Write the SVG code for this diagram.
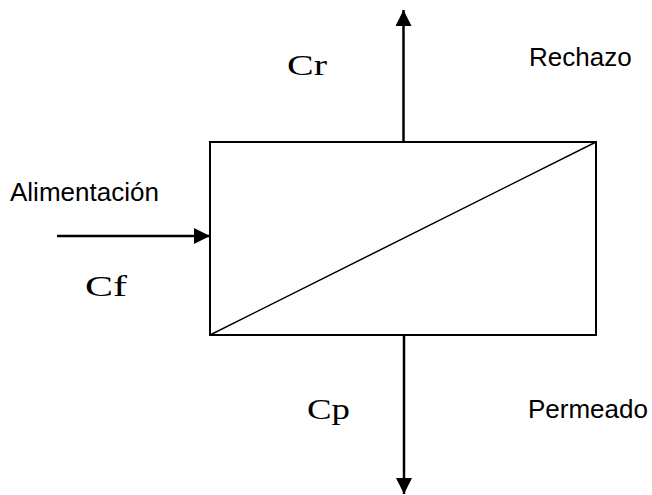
<svg xmlns="http://www.w3.org/2000/svg" width="652" height="495" viewBox="0 0 652 495">
<style>
.sans{font-family:"Liberation Sans",Arial,sans-serif;font-size:26px;fill:#000}
.serif{font-family:"Liberation Serif","Times New Roman",serif;font-size:30px;fill:#000}
.edge{stroke:#000;stroke-width:2.5;fill:none}
</style>
<defs>
<marker id="ah" markerUnits="userSpaceOnUse" markerWidth="18" markerHeight="16" refX="16" refY="8" orient="auto">
<path d="M0,0 L16,8 L0,16 Z" fill="#000"/>
</marker>
</defs>
<rect width="652" height="495" fill="#fff"/>
<g id="connectors">
<line class="edge" x1="403.5" y1="142" x2="403.5" y2="10" marker-end="url(#ah)"/>
<line class="edge" x1="404" y1="336" x2="404" y2="494" marker-end="url(#ah)"/>
<line class="edge" x1="57" y1="236" x2="210" y2="236" marker-end="url(#ah)"/>
</g>
<g id="membrane">
<rect x="210" y="142" width="386" height="193" fill="#fff" stroke="#000" stroke-width="2"/>
<line x1="210" y1="335" x2="596" y2="142" stroke="#000" stroke-width="1.5"/>
</g>
<g id="labels">
<text class="sans" x="10" y="201">Alimentación</text>
<text class="sans" x="529" y="66">Rechazo</text>
<text class="sans" x="528" y="418">Permeado</text>
<text class="serif" x="287" y="75" textLength="40" lengthAdjust="spacingAndGlyphs">Cr</text>
<text class="serif" x="85" y="296" textLength="42" lengthAdjust="spacingAndGlyphs">Cf</text>
<text class="serif" x="307" y="419" textLength="43" lengthAdjust="spacingAndGlyphs">Cp</text>
</g>
</svg>
